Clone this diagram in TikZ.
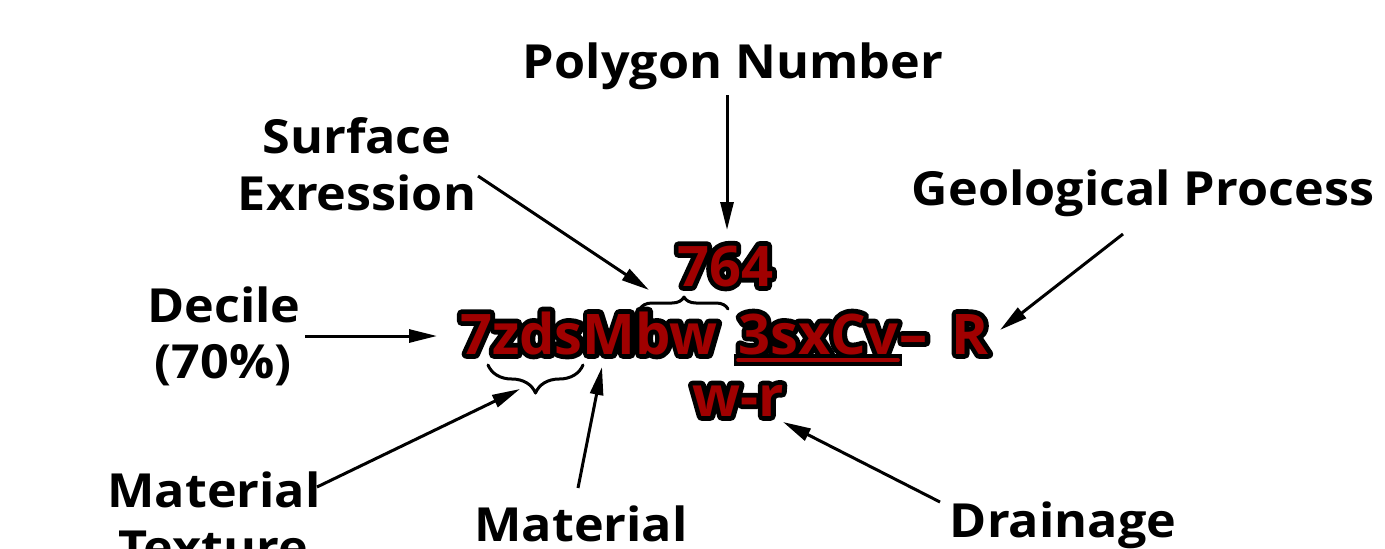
\documentclass[tikz,border=0pt]{standalone}
\usepackage{fontspec}
\setmainfont{Open Sans}
\newfontfamily\labfont{Open Sans}[FakeStretch=1.07]
\newfontfamily\olfont{Open Sans}[FakeBold=17]
\usetikzlibrary{arrows.meta,decorations.pathreplacing}
\definecolor{dred}{RGB}{160,0,0}
% red text with a black outline underneath
\newcommand\outl[2]{\makebox[0pt][l]{\special{pdf:literal direct 1 j 1 J}\color{black}\olfont\bfseries #2}#1}
\newcommand\ulred[1]{\setbox0\hbox{#1}\rlap{\rule[-8pt]{\wd0}{4pt}}\box0}
\newcommand\ulblk[1]{\setbox0\hbox{#1}\rlap{\kern-4pt\rule[-12pt]{\dimexpr\wd0+8pt\relax}{12pt}}\box0}
\begin{document}
\begin{tikzpicture}[x=1pt,y=-1pt,
  lab/.style={font=\labfont\fontsize{47}{52}\selectfont\bfseries, inner sep=0pt, anchor=base},
  codetxt/.style={font=\fontsize{56}{60}\selectfont\bfseries, text=dred, inner sep=0pt, anchor=base, line join=round},
  arr/.style={line width=3pt, -{Triangle[length=28pt,width=13pt]}},
  brc/.style={decorate, line width=3pt, line cap=round, line join=round}]
\useasboundingbox (0,0) rectangle (1385,549);
% labels
\node[lab] (pn) at (733,78) {Polygon Number};
\node[lab] (se1) at (357,153) {Surface};
\node[lab] (se2) at (357,210) {Exression};
\node[lab] (gp) at (1143,205) {Geological Process};
\node[lab] (dc1) at (224,322) {Decile};
\node[lab] (dc2) at (223,378) {(70\%)};
\node[lab] (mt1) at (214,507) {Material};
\node[lab] (mt2) at (213,564) {Texture};
\node[lab] (mat) at (581,541) {Material};
\node[lab] (dr) at (1063,537) {Drainage};
% code
\node[codetxt] (n764) at (725,286) {\outl{764}{764}};
\node[codetxt] (c1) at (589,354) {\outl{7zdsMbw}{7zdsMbw}};
\node[codetxt, anchor=base west] (c2) at (738,354) {\outl{\ulred{3sxCv}\kern2pt–\hspace{0.42em}R}{\ulblk{3sxCv}\kern2pt–\hspace{0.42em}R}};
\node[codetxt] (c3) at (738,416) {\outl{w-r}{w-r}};
% braces
\coordinate (b1a) at (640,309);
\coordinate (b1b) at (728,309);
\coordinate (b2a) at (583,365);
\coordinate (b2b) at (488,365);
\draw[brc, decoration={brace, amplitude=12pt}] (b1a) -- (b1b);
\draw[brc, decoration={brace, amplitude=28pt}] (b2a) -- (b2b);
% arrow coordinates
\coordinate (pnS) at (727,95);   \coordinate (pnE) at (727,230);
\coordinate (seS) at (478,176);  \coordinate (seE) at (649,290);
\coordinate (gpS) at (1123,234); \coordinate (gpE) at (1000,330);
\coordinate (dcS) at (305,336);  \coordinate (dcE) at (437,336);
\coordinate (mtS) at (317,487);  \coordinate (mtE) at (520,389);
\coordinate (maS) at (578,488);  \coordinate (maE) at (602,367);
\coordinate (drS) at (940,502);  \coordinate (drE) at (783,422);
\draw[arr] (pnS) -- (pnE);
\draw[arr] (seS) -- (seE);
\draw[arr] (gpS) -- (gpE);
\draw[arr] (dcS) -- (dcE);
\draw[arr] (mtS) -- (mtE);
\draw[arr] (maS) -- (maE);
\draw[arr] (drS) -- (drE);
\end{tikzpicture}
\end{document}
